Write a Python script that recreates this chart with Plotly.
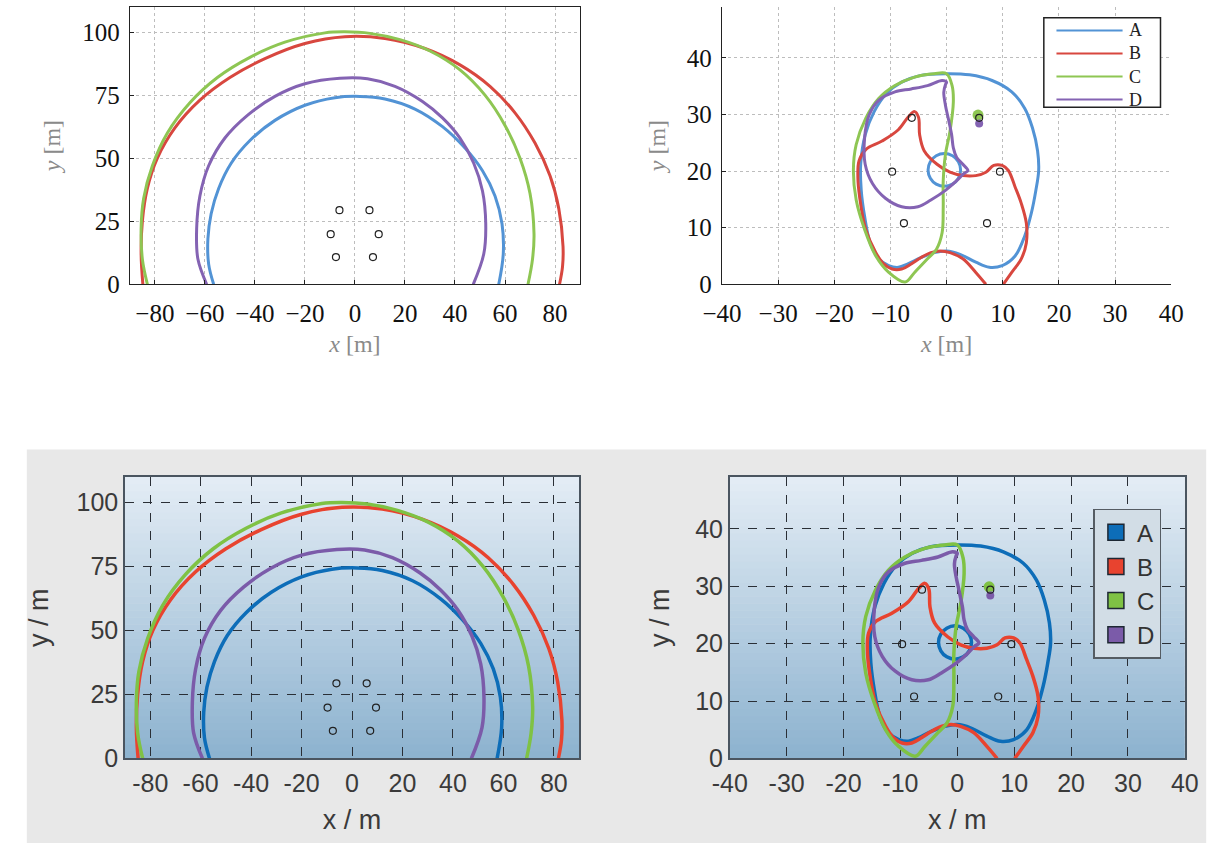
import plotly.graph_objects as go
from plotly.subplots import make_subplots

# ---------------- data ----------------
series_names = ["A", "B", "C", "D"]

# left plots: reach contours (x, y in m)
arc_A_x = [-56.5, -58.5, -58.8, -57.5, -54.5, -49.5, -42, -32, -20, -8, 2, 12, 24, 35, 44, 51, 56, 58.8, 59.3, 57.5]
arc_A_y = [0, 8, 18, 28, 38, 48, 57, 65, 71, 74, 74.5, 73.5, 69.5, 62.5, 54, 45, 35, 24, 12, 0]
arc_B_x = [-84.8, -85.5, -85, -83, -79, -72, -62, -50, -36, -20, -4, 12, 28, 42, 54, 64, 72, 78, 81.5, 83.2, 83, 81.8]
arc_B_y = [0, 12, 25, 38, 50, 62, 73, 82, 89.5, 95.5, 98.2, 97.5, 93.5, 87, 78.5, 68, 56, 43, 30, 15, 7, 0]
arc_C_x = [-83, -85, -85.5, -84.5, -81, -75, -66, -55, -42, -28, -12, -4, 6, 18, 30, 42, 52, 60, 66, 70, 71.6, 71, 69.2]
arc_C_y = [0, 10, 22, 34, 47, 60, 72, 82, 90, 96, 99.7, 100.1, 99.5, 97, 92.5, 85, 75, 63, 50, 36, 20, 10, 0]
arc_D_x = [-59.3, -62.8, -63.3, -62, -58.5, -52, -43, -32, -20, -6, 5, 16, 27, 35, 42, 47.5, 51, 52.3, 51.5, 47.3]
arc_D_y = [0, 10, 22, 35, 47, 58, 67, 74.5, 79.5, 81.7, 81.5, 78.5, 72.5, 66, 58, 48, 37, 24, 12, 0]

# right plots: trajectories (x, y in m); None separates pieces
traj_A_x = [0, 4.1, 8.1, 11.6, 13.9, 15.3, 16.2, 16.4, 15.9, 15.1, 13.9, 12.2, 9.9, 7.6, 5.2, 2.4, 0, -2.2, -4.6,
            -6.9, -8.6, -10.3, -12.1, -13.6, -14.6, -15.2, -15.3, -14.5, -12.9, -10.7, -8, -4.6, 0,
            None, 2.5, 2.1, 1.05, -0.4, -1.85, -2.9, -3.3, -2.9, -1.85, -0.4, 1.05, 2.1, 2.5]
traj_A_y = [37.2, 37.0, 36.0, 34.0, 31.1, 27.6, 23.6, 20.1, 16.6, 12.6, 8.5, 5.0, 3.3, 3.0, 3.9, 5.3, 5.9, 5.6, 4.7,
            3.6, 3.0, 3.3, 4.5, 7.3, 12, 16.6, 21.2, 26.4, 30.5, 33.7, 35.7, 36.9, 37.2,
            None, 20.2, 21.65, 22.7, 23.1, 22.7, 21.65, 20.2, 18.75, 17.7, 17.3, 17.7, 18.75, 20.2]
traj_B_x = [7.0, 5.2, 2.9, 0.6, -1.1, -2.8, -4.6, -6.3, -8.0, -9.7, -11.2, -12.6, -14.4, -15.5, -15.8, -15.6, -14.4,
            -11.5, -8.6, -6.8, -5.7, -5.0, -4.8, -4.0, -1.7, 0.6, 2.9, 5.2, 7.0, 8.4, 9.9, 11.0, 12.2, 13.3, 14.2,
            14.2, 13.3, 11.6, 10.1]
traj_B_y = [0, 2.1, 4.5, 5.6, 5.9, 5.6, 4.7, 3.6, 2.7, 2.7, 3.6, 5.6, 9.7, 15.5, 18.9, 21.8, 23.8,
            25.3, 27.3, 29.6, 30.5, 29.5, 26.4, 23.6, 21.2, 19.8, 19.2, 19.2, 19.8, 21.0, 21.0, 20.1, 17.2, 14.3, 10.8,
            7.3, 4.5, 2.1, 0]
traj_C_x = [-7.4, -10.3, -12.6, -14.6, -16.1, -16.6, -16.1, -14.4, -12.1, -9.2, -5.7, -2.2, 0, 1.0, 1.2, 0.6, -0.2,
            -0.6, -0.6, -0.8, -1.8, -3.4, -5.7, -7.4]
traj_C_y = [0.4, 2.1, 5.0, 9.7, 14.9, 20.1, 24.7, 29.3, 32.8, 35.1, 36.6, 37.2, 37.2, 35.0, 32.2, 27.0, 23.0,
            18.3, 13.7, 9.1, 6.2, 4.5, 2.1, 0.4]
traj_D_x = [0, -0.8, -3.4, -6.3, -9.2, -12.1, -13.8, -14.6, -14.5, -13.2, -10.9, -8.0, -5.1, -2.8, -0.2, 1.8, 3.0,
            3.8, 2.9, 1.8, 1.2, 0.9, 0.3, -0.2, -0.5, -0.2, 0]
traj_D_y = [35.7, 36.0, 35.1, 34.5, 34.0, 32.5, 29.9, 25.9, 21.2, 17.8, 15.2, 13.7, 13.7, 14.9, 16.6, 18.3, 19.5,
            20.1, 21.2, 22.4, 24.1, 26.4, 29.3, 31.6, 33.9, 35.3, 35.7]

# end-point blobs of trajectories C and D
blob_C = (5.6, 29.9)
blob_D = (5.8, 28.4)

# obstacle / sensor positions ("o")
obst_x = [-6.2, 5.8, -9.7, 9.5, -7.6, 7.2]
obst_y = [29.4, 29.4, 19.9, 19.9, 10.8, 10.8]

# ticks
arc_xticks = [-80, -60, -40, -20, 0, 20, 40, 60, 80]
arc_yticks = [0, 25, 50, 75, 100]
traj_xticks = [-40, -30, -20, -10, 0, 10, 20, 30, 40]
traj_yticks = [0, 10, 20, 30, 40]

# ---------------- styles ----------------
W, H = 1227, 863
top_cols = {"A": "#5293d5", "B": "#d8473f", "C": "#8ec653", "D": "#8463b3"}
bot_cols = {"A": "#0d6db8", "B": "#e8432f", "C": "#7fc244", "D": "#7b5ba9"}
serif = "Liberation Serif"
sans = "Liberation Sans"

arcs = {"A": (arc_A_x, arc_A_y), "B": (arc_B_x, arc_B_y), "C": (arc_C_x, arc_C_y), "D": (arc_D_x, arc_D_y)}
trajs = {"A": (traj_A_x, traj_A_y), "B": (traj_B_x, traj_B_y), "C": (traj_C_x, traj_C_y), "D": (traj_D_x, traj_D_y)}


def px_dom(a, b):
    return [a / W, b / W]


def py_dom(top, bottom):
    return [1 - bottom / H, 1 - top / H]


obst_marker = dict(symbol="circle-open", size=7, color="#222", line=dict(width=1.2))

fig = make_subplots(rows=2, cols=2)

# --- top left
for n in series_names:
    fig.add_trace(go.Scatter(x=arcs[n][0], y=arcs[n][1], mode="lines", name=n,
                             line=dict(color=top_cols[n], width=3, shape="spline"),
                             showlegend=False, hoverinfo="skip"), row=1, col=1)
fig.add_trace(go.Scatter(x=obst_x, y=obst_y, mode="markers", showlegend=False, marker=obst_marker), row=1, col=1)

# --- top right
for n in series_names:
    fig.add_trace(go.Scatter(x=trajs[n][0], y=trajs[n][1], mode="lines", name=n, showlegend=False,
                             line=dict(color=top_cols[n], width=3, shape="spline"), hoverinfo="skip"), row=1, col=2)
fig.add_trace(go.Scatter(x=[blob_C[0]], y=[blob_C[1]], mode="markers", showlegend=False,
                         marker=dict(size=11, color=top_cols["C"])), row=1, col=2)
fig.add_trace(go.Scatter(x=[blob_D[0]], y=[blob_D[1]], mode="markers", showlegend=False,
                         marker=dict(size=8, color=top_cols["D"])), row=1, col=2)
fig.add_trace(go.Scatter(x=obst_x, y=obst_y, mode="markers", showlegend=False, marker=obst_marker), row=1, col=2)

# --- bottom left
for n in series_names:
    fig.add_trace(go.Scatter(x=arcs[n][0], y=arcs[n][1], mode="lines", name=n,
                             line=dict(color=bot_cols[n], width=3.5, shape="spline"),
                             showlegend=False, hoverinfo="skip"), row=2, col=1)
fig.add_trace(go.Scatter(x=obst_x, y=obst_y, mode="markers", showlegend=False, marker=obst_marker), row=2, col=1)

# --- bottom right
for n in series_names:
    fig.add_trace(go.Scatter(x=trajs[n][0], y=trajs[n][1], mode="lines", name=n, showlegend=False,
                             line=dict(color=bot_cols[n], width=3.5, shape="spline"), hoverinfo="skip"), row=2, col=2)
fig.add_trace(go.Scatter(x=[blob_C[0]], y=[blob_C[1]], mode="markers", showlegend=False,
                         marker=dict(size=11, color=bot_cols["C"])), row=2, col=2)
fig.add_trace(go.Scatter(x=[blob_D[0]], y=[blob_D[1]], mode="markers", showlegend=False,
                         marker=dict(size=8, color=bot_cols["D"])), row=2, col=2)
fig.add_trace(go.Scatter(x=obst_x, y=obst_y, mode="markers", showlegend=False, marker=obst_marker), row=2, col=2)
for n in series_names:
    fig.add_trace(go.Scatter(x=[None], y=[None], mode="markers", name=n, legend="legend2",
                             marker=dict(symbol="square", size=16, color=bot_cols[n],
                                         line=dict(color="#1d2733", width=1.5))),
                  row=2, col=2)

# ---------------- axes ----------------
top_tick_font = dict(family=serif, size=25, color="#111")
top_title_font = dict(family=serif, size=24, color="#8a8a8a")
bot_tick_font = dict(family=sans, size=25, color="#3a3a3a")
bot_title_font = dict(family=sans, size=27, color="#3a3a3a")

common_top = dict(showgrid=True, gridcolor="#bdbdbd", griddash="dot", gridwidth=1, zeroline=False,
                  showline=True, linecolor="#222", linewidth=1.3, ticks="inside", ticklen=4, tickcolor="#222",
                  tickfont=top_tick_font, title_font=top_title_font)
common_bot = dict(showgrid=True, gridcolor="#2a2f36", griddash="dash", gridwidth=1, zeroline=False,
                  showline=True, linecolor="#4a5560", linewidth=1.5, mirror=True, ticks="",
                  tickfont=bot_tick_font, title_font=bot_title_font)

# top-left
fig.update_xaxes(common_top, domain=px_dom(113, 576), range=[-90, 90], tickvals=arc_xticks, mirror=True,
                 ticklabelstandoff=7, title_text="<i>x</i> [m]", title_standoff=8, row=1, col=1)
fig.update_yaxes(common_top, domain=py_dom(7, 289), range=[0, 110], tickvals=arc_yticks, mirror=True,
                 ticklabelstandoff=4, title_text="<i>y</i> [m]", title_standoff=14, row=1, col=1)
# top-right
fig.update_xaxes(common_top, domain=px_dom(722, 1184), range=[-40, 40], tickvals=traj_xticks, mirror=False,
                 ticklabelstandoff=7, title_text="<i>x</i> [m]", title_standoff=8, row=1, col=2)
fig.update_yaxes(common_top, domain=py_dom(7, 289), range=[0, 49], tickvals=traj_yticks, mirror=False,
                 ticklabelstandoff=4, title_text="<i>y</i> [m]", title_standoff=14, row=1, col=2)
# bottom-left
fig.update_xaxes(common_bot, domain=px_dom(108, 575), range=[-90, 90], tickvals=arc_xticks,
                 ticktext=[str(v) for v in arc_xticks], ticklabelstandoff=2,
                 title_text="x / m", title_standoff=14, row=2, col=1)
fig.update_yaxes(common_bot, domain=py_dom(485, 771), range=[0, 110], tickvals=arc_yticks,
                 ticktext=[str(v) for v in arc_yticks], title_text="y / m", title_standoff=20, row=2, col=1)
# bottom-right
fig.update_xaxes(common_bot, domain=px_dom(730, 1198), range=[-40, 40], tickvals=traj_xticks,
                 ticktext=[str(v) for v in traj_xticks], ticklabelstandoff=2,
                 title_text="x / m", title_standoff=14, row=2, col=2)
fig.update_yaxes(common_bot, domain=py_dom(485, 771), range=[0, 49], tickvals=traj_yticks,
                 ticktext=[str(v) for v in traj_yticks], title_text="y / m", title_standoff=18, row=2, col=2)

# ---------------- backgrounds & top legend ----------------
shapes = [dict(type="rect", xref="paper", yref="paper", x0=7 / W, x1=1220 / W, y0=1 - 857 / H, y1=1 - 457 / H,
               fillcolor="#e8e8e8", line=dict(width=0), layer="below")]
top_rgb = (228, 237, 245)
bot_rgb = (140, 178, 207)
N = 40
for ax, ya in [("x3", "y3"), ("x4", "y4")]:
    for i in range(N):
        t = (i + 0.5) / N  # 0 at bottom
        c = tuple(round(bot_rgb[k] + (top_rgb[k] - bot_rgb[k]) * t) for k in range(3))
        shapes.append(dict(type="rect", xref=f"{ax} domain", yref=f"{ya} domain", x0=0, x1=1,
                           y0=i / N, y1=(i + 1) / N + 0.002, fillcolor="rgb(%d,%d,%d)" % c,
                           line=dict(width=0), layer="below"))

# legend box of the top-right panel (line keys)
lg_left, lg_right, lg_top, lg_bottom = 1053, 1173, 18, 109
shapes.append(dict(type="rect", xref="paper", yref="paper", x0=lg_left / W, x1=lg_right / W,
                   y0=1 - lg_bottom / H, y1=1 - lg_top / H, fillcolor="white", line=dict(color="#222", width=1.5)))
lg_font = 18
row_gap = lg_font * 1.3
row_y = [31 + i * row_gap for i in range(4)]
for n, ry in zip(series_names, row_y):
    shapes.append(dict(type="line", xref="paper", yref="paper", x0=1066 / W, x1=1134 / W,
                       y0=1 - ry / H, y1=1 - ry / H, line=dict(color=top_cols[n], width=2)))
annotations = [dict(xref="paper", yref="paper", x=1139 / W, y=1 - (row_y[0] + row_y[-1]) / 2 / H,
                    text="<br>".join(series_names), showarrow=False, align="left",
                    xanchor="left", yanchor="middle", font=dict(family=serif, size=lg_font, color="#222"))]

fig.update_layout(
    width=W, height=H, margin=dict(l=0, r=0, t=0, b=0),
    paper_bgcolor="white", plot_bgcolor="rgba(0,0,0,0)",
    shapes=shapes, annotations=annotations,
    legend2=dict(x=1104 / W, y=1 - 517 / H, xanchor="left", yanchor="top", bgcolor="#d2dde6",
                 bordercolor="#555c63", borderwidth=1.5, font=dict(family=sans, size=24, color="#333"),
                 tracegroupgap=0, itemwidth=32),
)

fig.write_html("out.html", config={"displayModeBar": False},
               post_script="document.body.style.margin='0';")
